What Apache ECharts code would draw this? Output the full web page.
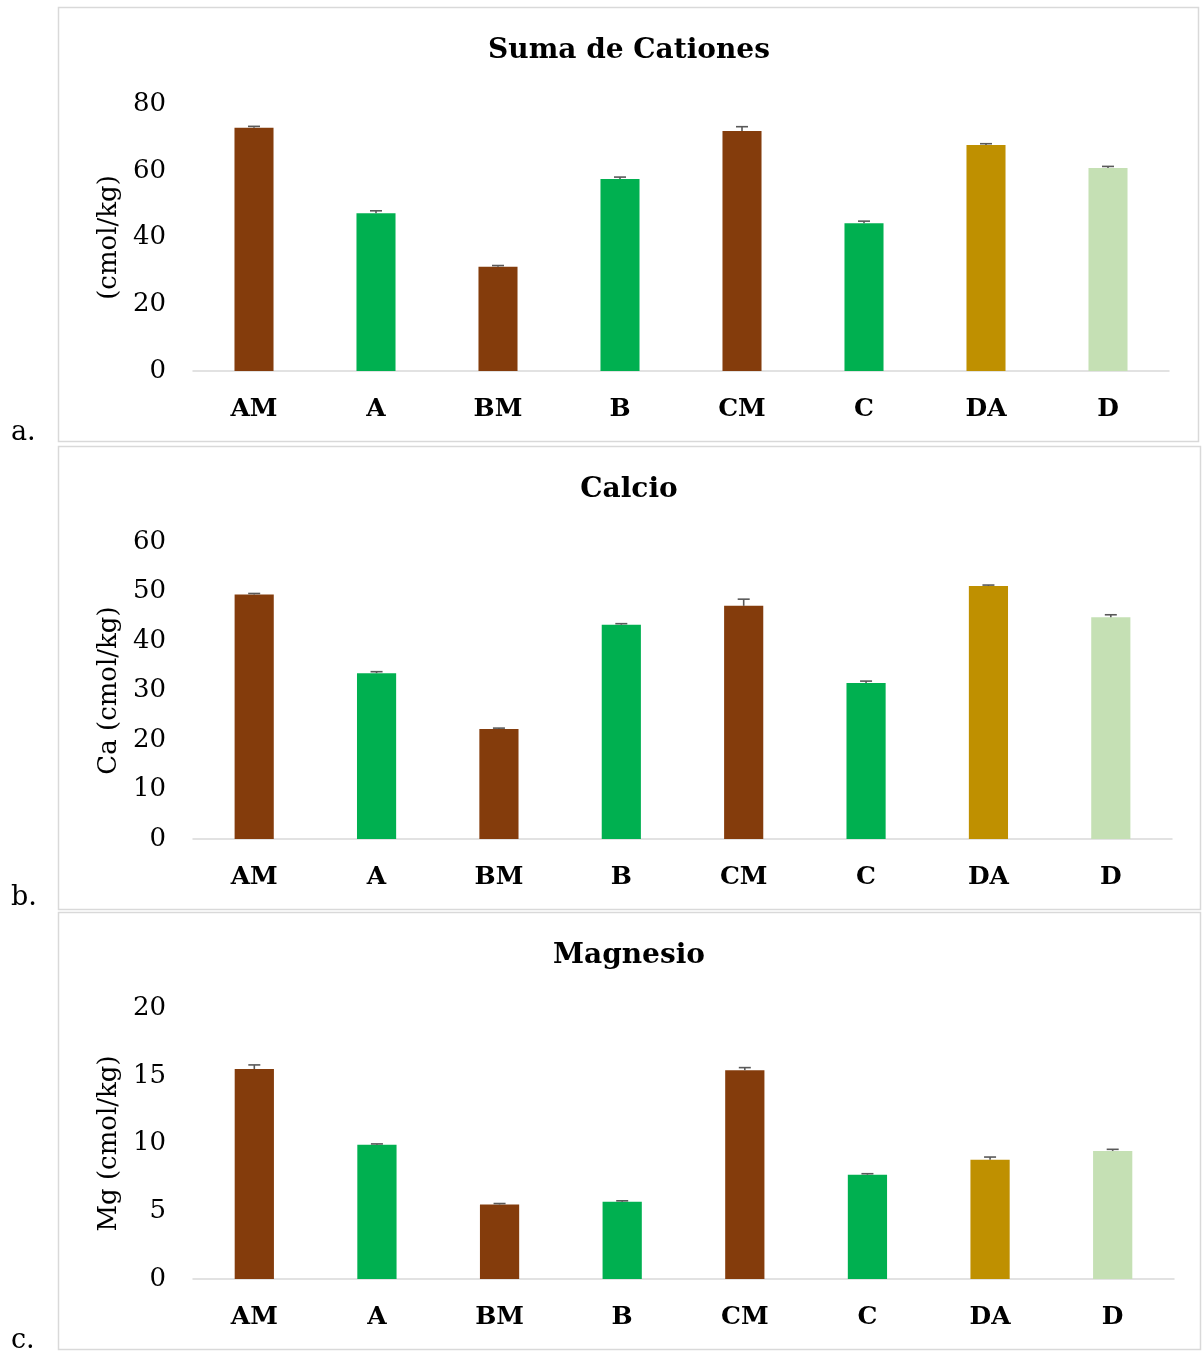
<!DOCTYPE html>
<html>
<head>
<meta charset="utf-8">
<title>Suma de Cationes, Calcio, Magnesio</title>
<script src="https://cdn.jsdelivr.net/npm/echarts@6/dist/echarts.min.js"></script>
<style>
  html, body { margin: 0; padding: 0; background: #fff; }
  #chart { width: 1202px; height: 1356px; }
</style>
</head>
<body>
<div id="chart"></div>
<script>
// Sample sites
const categories = ['AM', 'A', 'BM', 'B', 'CM', 'C', 'DA', 'D'];
const barColors = ['#843C0C', '#00B050', '#843C0C', '#00B050', '#843C0C', '#00B050', '#BF9000', '#C5E0B4'];

// a. Suma de cationes (cmol/kg) with standard error
const cationesValues = [72.9, 47.3, 31.2, 57.5, 71.9, 44.3, 67.7, 60.8];
const cationesErr = [0.4, 0.7, 0.4, 0.6, 1.3, 0.6, 0.4, 0.5];

// b. Calcio (cmol/kg)
const calcioValues = [49.4, 33.5, 22.2, 43.3, 47.1, 31.5, 51.1, 44.8];
const calcioErr = [0.2, 0.3, 0.2, 0.2, 1.35, 0.4, 0.2, 0.5];

// c. Magnesio (cmol/kg)
const magnesioValues = [15.5, 9.9, 5.5, 5.7, 15.4, 7.7, 8.8, 9.45];
const magnesioErr = [0.3, 0.07, 0.07, 0.07, 0.2, 0.07, 0.2, 0.12];

// Axis ranges
const axisRanges = [
  { max: 80, interval: 20 },
  { max: 60, interval: 10 },
  { max: 20, interval: 5 }
];
const axisNames = ['(cmol/kg)', 'Ca (cmol/kg)', 'Mg (cmol/kg)'];
const panelTitles = ['Suma de Cationes', 'Calcio', 'Magnesio'];
const panelLetters = ['a.', 'b.', 'c.'];

const FONT = '"DejaVu Serif", "Liberation Serif", serif';
const GRID_LINE = '#d9d9d9';

const panels = [
  { values: cationesValues, err: cationesErr },
  { values: calcioValues, err: calcioErr },
  { values: magnesioValues, err: magnesioErr }
];

// Layout of each framed panel and its plotting area
const layout = [
  { box: [58.5, 7.5, 1140, 434], grid: { left: 193, top: 104, width: 976, height: 267 }, titleY: 51, letterY: 433 },
  { box: [58.5, 446.5, 1142, 463], grid: { left: 193, top: 542, width: 979, height: 297 }, titleY: 490, letterY: 898 },
  { box: [58.5, 912.5, 1142, 437], grid: { left: 193, top: 1008, width: 981, height: 271 }, titleY: 956, letterY: 1341 }
];

const grids = [], xAxes = [], yAxes = [], series = [], graphics = [];

panels.forEach((p, i) => {
  const L = layout[i];
  grids.push(Object.assign({ containLabel: false }, L.grid));

  xAxes.push({
    type: 'category',
    gridIndex: i,
    data: categories,
    axisLine: { show: true, lineStyle: { color: GRID_LINE, width: 1.5 } },
    axisTick: { show: false },
    axisLabel: { margin: 26, fontFamily: FONT, fontSize: 25, fontWeight: 'bold', color: '#000' }
  });

  yAxes.push({
    type: 'value',
    gridIndex: i,
    min: 0,
    max: axisRanges[i].max,
    interval: axisRanges[i].interval,
    axisLine: { show: false },
    axisTick: { show: false },
    splitLine: { show: false },
    axisLabel: { margin: 27, fontFamily: FONT, fontSize: 26, color: '#000' },
    name: axisNames[i],
    nameLocation: 'middle',
    nameGap: 67,
    nameTextStyle: { fontFamily: FONT, fontSize: 26, color: '#000' }
  });

  series.push({
    type: 'bar',
    xAxisIndex: i,
    yAxisIndex: i,
    barWidth: '32%',
    data: p.values.map((v, k) => ({ value: v, itemStyle: { color: barColors[k] } })),
    z: 2
  });

  // Upper error bars
  series.push({
    type: 'custom',
    xAxisIndex: i,
    yAxisIndex: i,
    z: 3,
    data: p.values.map((v, k) => [k, v, p.err[k]]),
    renderItem: function (params, api) {
      const idx = api.value(0);
      const v = api.value(1);
      const e = api.value(2);
      const base = api.coord([idx, v]);
      const top = api.coord([idx, v + e]);
      const half = 6;
      const style = { stroke: '#595959', lineWidth: 1.6 };
      return {
        type: 'group',
        children: [
          { type: 'line', shape: { x1: base[0], y1: base[1], x2: top[0], y2: top[1] }, style: style },
          { type: 'line', shape: { x1: top[0] - half, y1: top[1], x2: top[0] + half, y2: top[1] }, style: style }
        ]
      };
    }
  });

  // Panel frame
  graphics.push({
    type: 'rect',
    shape: { x: L.box[0], y: L.box[1], width: L.box[2], height: L.box[3] },
    style: { fill: 'none', stroke: GRID_LINE, lineWidth: 1.5 },
    silent: true
  });
  // Panel title
  graphics.push({
    type: 'text',
    x: 629, y: L.titleY,
    style: {
      text: panelTitles[i], fontFamily: FONT, fontSize: 28, fontWeight: 'bold',
      fill: '#000', textAlign: 'center', textVerticalAlign: 'middle'
    }
  });
  // Panel letter
  graphics.push({
    type: 'text',
    x: 11, y: L.letterY,
    style: {
      text: panelLetters[i], fontFamily: FONT, fontSize: 27,
      fill: '#000', textAlign: 'left', textVerticalAlign: 'middle'
    }
  });
});

const chart = echarts.init(document.getElementById('chart'), null, { renderer: 'canvas' });
chart.setOption({
  backgroundColor: '#fff',
  animation: false,
  grid: grids,
  xAxis: xAxes,
  yAxis: yAxes,
  series: series,
  graphic: graphics
});
</script>
</body>
</html>
